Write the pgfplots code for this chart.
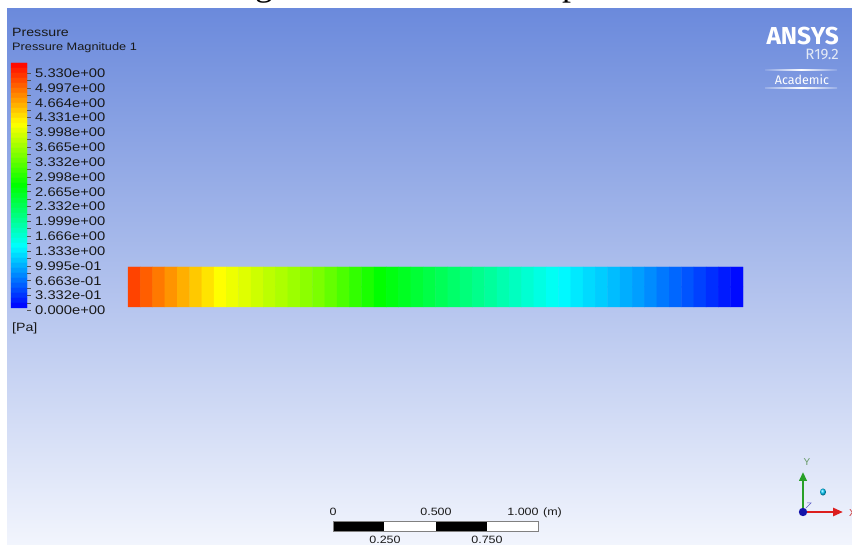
\documentclass[border=0pt]{standalone}
\usepackage{fontspec}
\setmainfont{Liberation Sans}
\newfontfamily\seriffont{Liberation Serif}
\newfontfamily\logofont{Fira Sans}
\usepackage{graphicx}
\usepackage{pgfplots}
\pgfplotsset{compat=1.18}
\usepackage{pgfplotstable}
\usetikzlibrary{arrows.meta}

\definecolor{bgtop}{RGB}{107,138,220}
\definecolor{bgbot}{RGB}{242,245,253}
\definecolor{txt}{RGB}{25,25,25}
\definecolor{axgreen}{RGB}{40,160,40}
\definecolor{axred}{RGB}{220,30,30}
\definecolor{axblue}{RGB}{20,20,170}
\definecolor{r19}{RGB}{228,234,246}
\newcommand\sx[1]{\scalebox{1.18}[1]{#1}}
\newcommand\lgnum{\fontsize{12.5bp}{14bp}\selectfont}
\newcommand\scl{\fontsize{10.6bp}{12bp}\selectfont}

% contour band values along the pipe (cell centres, px) : pressure [Pa]
\pgfplotstableread{
x y c
134.15 277 4.98
146.45 277 4.84
158.75 277 4.70
171.05 277 4.56
183.35 277 4.42
195.65 277 4.28
207.95 277 4.14
220.25 277 4.00
232.55 277 3.91
244.85 277 3.83
257.15 277 3.74
269.45 277 3.65
281.75 277 3.57
294.05 277 3.48
306.35 277 3.40
318.65 277 3.31
330.95 277 3.19
343.25 277 3.06
355.55 277 2.93
367.85 277 2.80
380.15 277 2.67
392.45 277 2.58
404.75 277 2.49
417.05 277 2.39
429.35 277 2.30
441.65 277 2.21
453.95 277 2.12
466.25 277 2.03
478.55 277 1.94
490.85 277 1.85
503.15 277 1.75
515.45 277 1.66
527.75 277 1.57
540.05 277 1.48
552.35 277 1.39
564.65 277 1.30
576.95 277 1.22
589.25 277 1.14
601.55 277 1.07
613.85 277 0.99
626.15 277 0.91
638.45 277 0.83
650.75 277 0.73
663.05 277 0.63
675.35 277 0.54
687.65 277 0.44
699.95 277 0.34
712.25 277 0.24
724.55 277 0.14
736.85 277 0.05
134.15 297 4.98
146.45 297 4.84
158.75 297 4.70
171.05 297 4.56
183.35 297 4.42
195.65 297 4.28
207.95 297 4.14
220.25 297 4.00
232.55 297 3.91
244.85 297 3.83
257.15 297 3.74
269.45 297 3.65
281.75 297 3.57
294.05 297 3.48
306.35 297 3.40
318.65 297 3.31
330.95 297 3.19
343.25 297 3.06
355.55 297 2.93
367.85 297 2.80
380.15 297 2.67
392.45 297 2.58
404.75 297 2.49
417.05 297 2.39
429.35 297 2.30
441.65 297 2.21
453.95 297 2.12
466.25 297 2.03
478.55 297 1.94
490.85 297 1.85
503.15 297 1.75
515.45 297 1.66
527.75 297 1.57
540.05 297 1.48
552.35 297 1.39
564.65 297 1.30
576.95 297 1.22
589.25 297 1.14
601.55 297 1.07
613.85 297 0.99
626.15 297 0.91
638.45 297 0.83
650.75 297 0.73
663.05 297 0.63
675.35 297 0.54
687.65 297 0.44
699.95 297 0.34
712.25 297 0.24
724.55 297 0.14
736.85 297 0.05
}\contour

% legend colour bar: 49 bands from 0 to 5.33 Pa
\pgfplotstableread{
x y c
15 65.5 5.276
23 65.5 5.276
15 70.5 5.167
23 70.5 5.167
15 75.5 5.058
23 75.5 5.058
15 80.5 4.950
23 80.5 4.950
15 85.5 4.841
23 85.5 4.841
15 90.5 4.732
23 90.5 4.732
15 95.5 4.623
23 95.5 4.623
15 100.5 4.515
23 100.5 4.515
15 105.5 4.406
23 105.5 4.406
15 110.5 4.297
23 110.5 4.297
15 115.5 4.188
23 115.5 4.188
15 120.5 4.079
23 120.5 4.079
15 125.5 3.971
23 125.5 3.971
15 130.5 3.862
23 130.5 3.862
15 135.5 3.753
23 135.5 3.753
15 140.5 3.644
23 140.5 3.644
15 145.5 3.536
23 145.5 3.536
15 150.5 3.427
23 150.5 3.427
15 155.5 3.318
23 155.5 3.318
15 160.5 3.209
23 160.5 3.209
15 165.5 3.100
23 165.5 3.100
15 170.5 2.992
23 170.5 2.992
15 175.5 2.883
23 175.5 2.883
15 180.5 2.774
23 180.5 2.774
15 185.5 2.665
23 185.5 2.665
15 190.5 2.557
23 190.5 2.557
15 195.5 2.448
23 195.5 2.448
15 200.5 2.339
23 200.5 2.339
15 205.5 2.230
23 205.5 2.230
15 210.5 2.121
23 210.5 2.121
15 215.5 2.013
23 215.5 2.013
15 220.5 1.904
23 220.5 1.904
15 225.5 1.795
23 225.5 1.795
15 230.5 1.686
23 230.5 1.686
15 235.5 1.577
23 235.5 1.577
15 240.5 1.469
23 240.5 1.469
15 245.5 1.360
23 245.5 1.360
15 250.5 1.251
23 250.5 1.251
15 255.5 1.142
23 255.5 1.142
15 260.5 1.034
23 260.5 1.034
15 265.5 0.925
23 265.5 0.925
15 270.5 0.816
23 270.5 0.816
15 275.5 0.707
23 275.5 0.707
15 280.5 0.598
23 280.5 0.598
15 285.5 0.490
23 285.5 0.490
15 290.5 0.381
23 290.5 0.381
15 295.5 0.272
23 295.5 0.272
15 300.5 0.163
23 300.5 0.163
15 305.5 0.054
23 305.5 0.054
}\cbar

\begin{document}
\begin{tikzpicture}
\begin{axis}[
  at={(0,0)}, anchor=south west,
  width=852bp, height=545bp, scale only axis,
  xmin=0, xmax=852, ymin=0, ymax=545, y dir=reverse,
  hide axis, clip=false, set layers=standard,
  colormap={ansys}{rgb255=(0,0,255) rgb255=(0,255,255) rgb255=(0,255,0) rgb255=(255,255,0) rgb255=(255,0,0)},
  point meta min=0, point meta max=5.33,
]
\begin{pgfonlayer}{axis background}
  \fill[white] (axis cs:0,0) rectangle (axis cs:852,545);
  \fill[top color=bgtop, bottom color=bgbot] (axis cs:7,9) rectangle (axis cs:852,545);
  \begin{scope}
    \clip (axis cs:0,0) rectangle (axis cs:852,9);
    \node[anchor=base west, inner sep=0, font=\seriffont\fontsize{36bp}{40bp}\selectfont, text=black]
      at (axis cs:225,-4) {Figura 1: Gradiente de pressão};
  \end{scope}
\end{pgfonlayer}

% contour of the pipe
\addplot[matrix plot*, point meta=explicit, mesh/cols=50] table[x=x, y=y, meta=c] {\contour};
% legend colour bar
\addplot[matrix plot*, point meta=explicit, mesh/cols=2] table[x=x, y=y, meta=c] {\cbar};

\pgfplotsinvokeforeach{0,...,32}{
  \draw[txt!75, line width=0.5bp] (axis cs:27,{73+7.415*#1}) -- (axis cs:30.5,{73+7.415*#1});
}

% legend texts
\node[anchor=base west, inner sep=0, text=txt, font=\fontsize{12bp}{14bp}\selectfont] at (axis cs:12,37) {\sx{Pressure}};
\node[anchor=base west, inner sep=0, text=txt, font=\fontsize{10.8bp}{12bp}\selectfont] at (axis cs:12,51) {\sx{Pressure Magnitude 1}};
\node[anchor=base west, inner sep=0, text=txt, font=\lgnum] at (axis cs:35,77.5) {\sx{5.330e+00}};
\node[anchor=base west, inner sep=0, text=txt, font=\lgnum] at (axis cs:35,92.3) {\sx{4.997e+00}};
\node[anchor=base west, inner sep=0, text=txt, font=\lgnum] at (axis cs:35,107.2) {\sx{4.664e+00}};
\node[anchor=base west, inner sep=0, text=txt, font=\lgnum] at (axis cs:35,122.0) {\sx{4.331e+00}};
\node[anchor=base west, inner sep=0, text=txt, font=\lgnum] at (axis cs:35,136.8) {\sx{3.998e+00}};
\node[anchor=base west, inner sep=0, text=txt, font=\lgnum] at (axis cs:35,151.7) {\sx{3.665e+00}};
\node[anchor=base west, inner sep=0, text=txt, font=\lgnum] at (axis cs:35,166.5) {\sx{3.332e+00}};
\node[anchor=base west, inner sep=0, text=txt, font=\lgnum] at (axis cs:35,181.3) {\sx{2.998e+00}};
\node[anchor=base west, inner sep=0, text=txt, font=\lgnum] at (axis cs:35,196.1) {\sx{2.665e+00}};
\node[anchor=base west, inner sep=0, text=txt, font=\lgnum] at (axis cs:35,211.0) {\sx{2.332e+00}};
\node[anchor=base west, inner sep=0, text=txt, font=\lgnum] at (axis cs:35,225.8) {\sx{1.999e+00}};
\node[anchor=base west, inner sep=0, text=txt, font=\lgnum] at (axis cs:35,240.6) {\sx{1.666e+00}};
\node[anchor=base west, inner sep=0, text=txt, font=\lgnum] at (axis cs:35,255.5) {\sx{1.333e+00}};
\node[anchor=base west, inner sep=0, text=txt, font=\lgnum] at (axis cs:35,270.3) {\sx{9.995e-01}};
\node[anchor=base west, inner sep=0, text=txt, font=\lgnum] at (axis cs:35,285.1) {\sx{6.663e-01}};
\node[anchor=base west, inner sep=0, text=txt, font=\lgnum] at (axis cs:35,300.0) {\sx{3.332e-01}};
\node[anchor=base west, inner sep=0, text=txt, font=\lgnum] at (axis cs:35,314.8) {\sx{0.000e+00}};
\node[anchor=base west, inner sep=0, text=txt, font=\fontsize{12bp}{14bp}\selectfont] at (axis cs:12,331.5) {\sx{[Pa]}};

% ANSYS logo
\node[anchor=base east, inner sep=0, text=white, font=\logofont\bfseries\fontsize{24.5bp}{26bp}\selectfont] at (axis cs:839,45) {ANSYS};
\node[anchor=base east, inner sep=0, text=r19, font=\logofont\fontsize{15bp}{16bp}\selectfont] at (axis cs:839,59.5) {R19.2};
\shade[left color=bgtop!80!white, right color=bgtop!80!white, middle color=white] (axis cs:765,69.3) rectangle (axis cs:837,70.8);
\shade[left color=bgtop!70!white, right color=bgtop!70!white, middle color=white] (axis cs:765,87.3) rectangle (axis cs:837,88.8);
\node[anchor=base, inner sep=0, text=white, font=\logofont\fontsize{12.5bp}{14bp}\selectfont] at (axis cs:802,84.5) {Academic};

% scale bar
\fill[black] (axis cs:333,521) rectangle (axis cs:384,531);
\fill[white] (axis cs:384,521) rectangle (axis cs:436,531);
\fill[black] (axis cs:436,521) rectangle (axis cs:487,531);
\fill[white] (axis cs:487,521) rectangle (axis cs:538,531);
\draw[gray, line width=0.6bp] (axis cs:333,521) rectangle (axis cs:538,531);
\node[anchor=base, inner sep=0, text=txt, font=\scl] at (axis cs:333,515) {\sx{0}};
\node[anchor=base, inner sep=0, text=txt, font=\scl] at (axis cs:436,515) {\sx{0.500}};
\node[anchor=base, inner sep=0, text=txt, font=\scl] at (axis cs:523,515) {\sx{1.000}};
\node[anchor=base, inner sep=0, text=txt, font=\scl] at (axis cs:552.5,515) {\sx{(m)}};
\node[anchor=base, inner sep=0, text=txt, font=\scl] at (axis cs:385,543.5) {\sx{0.250}};
\node[anchor=base, inner sep=0, text=txt, font=\scl] at (axis cs:487,543.5) {\sx{0.750}};

% axis triad
\draw[axgreen, line width=2.6bp, -{Triangle[length=9bp,width=7.5bp]}] (axis cs:803,512) -- (axis cs:803,472);
\draw[axred, line width=2.8bp, -{Triangle[length=10bp,width=8bp]}] (axis cs:803,512) -- (axis cs:843,512);
\fill[axblue] (axis cs:803,512) circle[radius=4.2bp];
\draw[axblue!70!white, line width=0.5bp] (axis cs:806,508) -- (axis cs:811,503) -- (axis cs:807,503);
\shade[ball color=cyan!80!blue] (axis cs:823,492) ellipse[x radius=3bp, y radius=3.6bp];
\node[anchor=base, inner sep=0, text=gray!80!green, font=\fontsize{10bp}{11bp}\selectfont] at (axis cs:807,466) {Y};
\node[anchor=base west, inner sep=0, text=red!60!gray, font=\fontsize{10bp}{11bp}\selectfont] at (axis cs:849,516) {X};
\end{axis}
\pgfresetboundingbox
\useasboundingbox (0,0) rectangle (852bp,545bp);
\end{tikzpicture}
\end{document}
